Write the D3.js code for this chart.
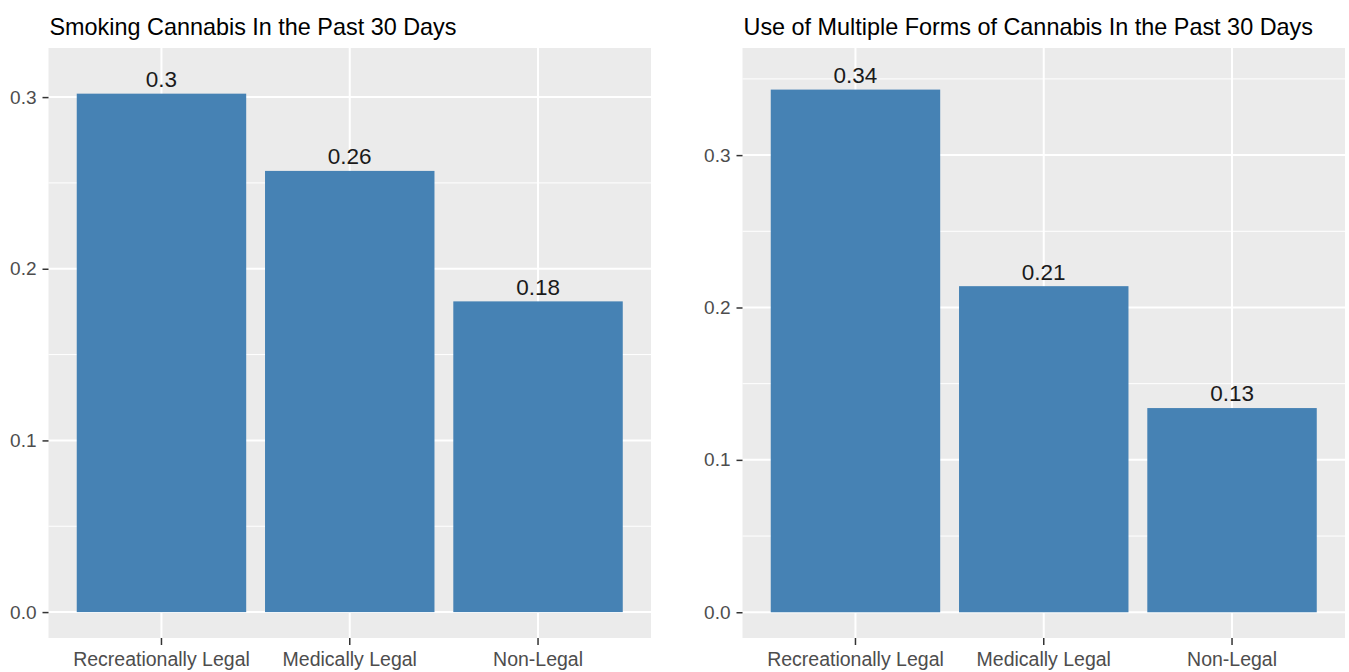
<!DOCTYPE html>
<html>
<head>
<meta charset="utf-8">
<script src="https://cdn.jsdelivr.net/npm/d3@7"></script>
<style>
  body { margin: 0; background: #fff; }
  svg { display: block; font-family: "Liberation Sans", Arial, sans-serif; }
</style>
</head>
<body>
<svg id="chart" width="1349" height="672"></svg>
<script>
const categories = ["Recreationally Legal", "Medically Legal", "Non-Legal"];
const smokingValues = [0.302, 0.257, 0.181];
const multipleFormsValues = [0.343, 0.214, 0.134];
const titles = ["Smoking Cannabis In the Past 30 Days", "Use of Multiple Forms of Cannabis In the Past 30 Days"];
const smokingTicks = [0.0, 0.1, 0.2, 0.3];
const multipleTicks = [0.0, 0.1, 0.2, 0.3];
const smokingMinor = [0.05, 0.15, 0.25];
const multipleMinor = [0.05, 0.15, 0.25, 0.35];
const smokingDomain = [-0.0151, 0.3286];
const multipleDomain = [-0.0169, 0.3703];

const svg = d3.select("#chart");

const panels = [
  { title: titles[0], values: smokingValues, ticks: smokingTicks, minor: smokingMinor, domain: smokingDomain, x0: 48.5, x1: 651 },
  { title: titles[1], values: multipleFormsValues, ticks: multipleTicks, minor: multipleMinor, domain: multipleDomain, x0: 742.5, x1: 1345 }
];
const panelTop = 48, panelBottom = 638;
const fmt = v => String(+v.toFixed(2));

panels.forEach(p => {
  const g = svg.append("g");
  const x = d3.scaleBand().domain(categories).range([p.x0, p.x1]).paddingInner(0.1).paddingOuter(0.15);
  const y = d3.scaleLinear().domain(p.domain).range([panelBottom, panelTop]);

  g.append("rect").attr("x", p.x0).attr("y", panelTop).attr("width", p.x1 - p.x0).attr("height", panelBottom - panelTop).attr("fill", "#EBEBEB");

  g.selectAll(".minor").data(p.minor).enter().append("line")
    .attr("x1", p.x0).attr("x2", p.x1)
    .attr("y1", d => y(d)).attr("y2", d => y(d))
    .attr("stroke", "#fff").attr("stroke-width", 1);
  g.selectAll(".major").data(p.ticks).enter().append("line")
    .attr("x1", p.x0).attr("x2", p.x1)
    .attr("y1", d => y(d)).attr("y2", d => y(d))
    .attr("stroke", "#fff").attr("stroke-width", 2);
  g.selectAll(".vmajor").data(categories).enter().append("line")
    .attr("x1", d => x(d) + x.bandwidth() / 2).attr("x2", d => x(d) + x.bandwidth() / 2)
    .attr("y1", panelTop).attr("y2", panelBottom)
    .attr("stroke", "#fff").attr("stroke-width", 2);

  g.selectAll(".bar").data(p.values).enter().append("rect")
    .attr("x", (d, i) => x(categories[i]))
    .attr("width", x.bandwidth())
    .attr("y", d => y(d))
    .attr("height", d => y(0) - y(d))
    .attr("fill", "#4682B4");

  g.selectAll(".lbl").data(p.values).enter().append("text")
    .attr("x", (d, i) => x(categories[i]) + x.bandwidth() / 2)
    .attr("y", d => y(d) - 6.6)
    .attr("text-anchor", "middle")
    .attr("font-size", 22.5)
    .attr("fill", "#1a1a1a")
    .text(d => fmt(d));

  const yAxis = d3.axisLeft(y).tickValues(p.ticks).tickFormat(d3.format(".1f")).tickSize(6).tickPadding(6);
  const ya = g.append("g").attr("transform", `translate(${p.x0},0)`).call(yAxis);
  ya.select(".domain").remove();
  ya.selectAll(".tick line").attr("stroke", "#333").attr("stroke-width", 1.5);
  ya.selectAll(".tick text").attr("font-size", 19).attr("fill", "#4d4d4d").attr("font-family", "Liberation Sans, Arial, sans-serif");

  const xAxis = d3.axisBottom(x).tickSize(7).tickPadding(7);
  const xa = g.append("g").attr("transform", `translate(0,${panelBottom})`).call(xAxis);
  xa.select(".domain").remove();
  xa.selectAll(".tick line").attr("stroke", "#333").attr("stroke-width", 1.5);
  xa.selectAll(".tick text").attr("font-size", 19.5).attr("fill", "#4d4d4d").attr("font-family", "Liberation Sans, Arial, sans-serif");

  g.append("text").attr("x", p.x0 + 1).attr("y", 35)
    .attr("font-size", 23.4).attr("fill", "#000")
    .text(p.title);
});
</script>
</body>
</html>
